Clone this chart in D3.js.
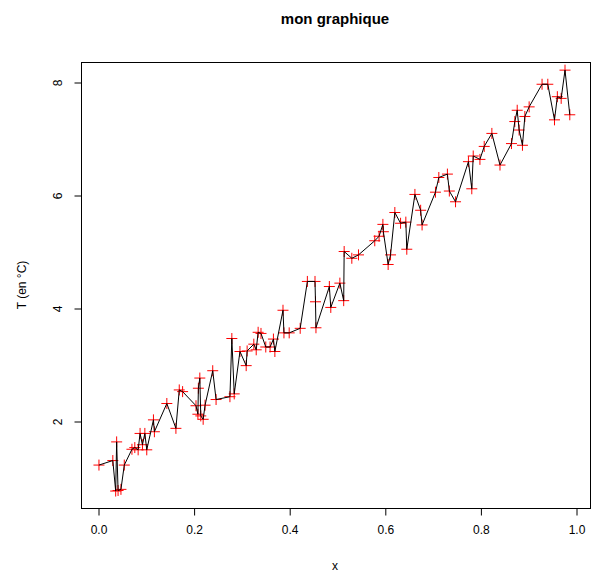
<!DOCTYPE html>
<html><head><meta charset="utf-8">
<script src="https://cdn.jsdelivr.net/npm/d3@7"></script>
<style>body{margin:0;background:#fff}svg{display:block}text{font-family:"Liberation Sans",Arial,sans-serif}</style>
</head><body>
<script>
const xs = [0.002,0.031,0.037,0.039,0.042,0.048,0.055,0.071,0.077,0.084,0.088,0.093,0.098,0.102,0.116,0.118,0.144,0.163,0.170,0.177,
0.205,0.209,0.210,0.213,0.215,0.220,0.224,0.240,0.247,0.276,0.280,0.285,0.297,0.310,0.312,0.326,0.331,0.335,0.341,0.351,
0.360,0.367,0.370,0.387,0.389,0.400,0.423,0.438,0.454,0.455,0.456,0.484,0.487,0.506,0.514,0.515,0.531,0.545,0.579,0.588,
0.596,0.597,0.607,0.612,0.621,0.633,0.644,0.646,0.663,0.675,0.678,0.706,0.713,0.731,0.735,0.748,0.775,0.782,0.785,0.799,
0.808,0.824,0.841,0.865,0.872,0.877,0.881,0.888,0.893,0.902,0.929,0.941,0.955,0.961,0.969,0.977,0.987];
const temps = [1.22,1.30,0.76,1.63,0.77,0.79,1.22,1.50,1.53,1.49,1.78,1.58,1.78,1.49,2.02,1.81,2.31,1.87,2.55,2.52,
2.27,2.12,2.58,2.76,2.09,2.03,2.28,2.89,2.38,2.43,3.46,2.48,3.23,2.98,3.24,3.36,3.26,3.57,3.55,3.31,
3.31,3.45,3.23,3.96,3.56,3.56,3.64,4.47,4.47,4.11,3.65,4.38,4.01,4.44,4.13,5.00,4.88,4.94,5.19,5.27,
5.48,5.35,4.77,4.94,5.69,5.50,5.52,5.04,6.01,5.73,5.47,6.05,6.31,6.37,6.07,5.88,6.59,6.11,6.69,6.63,
6.86,7.09,6.53,6.91,7.30,7.50,7.15,6.88,7.39,7.56,7.96,7.96,7.33,7.74,7.71,8.21,7.42];
const xTicks = [0, 0.2, 0.4, 0.6, 0.8, 1.0];
const yTicks = [2, 4, 6, 8];
const title = "mon graphique", xLabel = "x", yLabel = "T (en °C)";

const W = 593, H = 575;
const box = {l: 81, r: 590, t: 62, b: 508};
const svg = d3.select("body").append("svg").attr("width", W).attr("height", H);
const x = d3.scaleLinear().domain([0, 1]).range([98, 576]);
const y = d3.scaleLinear().domain([2, 8]).range([421, 82]);
const data = xs.map((v, i) => ({x: v, t: temps[i]}));

// points (red +)
const s = 5.5;
const g = svg.append("g").attr("stroke", "#ff0000").attr("stroke-width", 1);
data.forEach(d => {
  const px = x(d.x), py = y(d.t);
  g.append("line").attr("x1", px - s).attr("x2", px + s).attr("y1", py).attr("y2", py);
  g.append("line").attr("x1", px).attr("x2", px).attr("y1", py - s).attr("y2", py + s);
});
// line
svg.append("path").datum(data)
  .attr("d", d3.line().x(d => x(d.x)).y(d => y(d.t)))
  .attr("fill", "none").attr("stroke", "#000").attr("stroke-width", 1);

// box
svg.append("rect").attr("x", box.l + 0.5).attr("y", box.t + 0.5)
  .attr("width", box.r - box.l).attr("height", box.b - box.t)
  .attr("fill", "none").attr("stroke", "#000").attr("stroke-width", 1);

// x axis
const xa = svg.append("g").attr("transform", `translate(0.5,${box.b + 0.5})`)
  .call(d3.axisBottom(x).tickValues(xTicks).tickFormat(d3.format(".1f")).tickSize(7).tickPadding(10));
xa.select(".domain").attr("d", `M${x(0)},0H${x(1)}`);
xa.selectAll("text").attr("font-size", 12).attr("font-family", "Liberation Sans, Arial, sans-serif").attr("fill", "#000");

// y axis
const ya = svg.append("g").attr("transform", `translate(${box.l + 0.5},0.5)`)
  .call(d3.axisLeft(y).tickValues(yTicks).tickFormat(d3.format("d")).tickSize(7).tickPadding(0));
ya.select(".domain").attr("d", `M0,${y(2)}V${y(8)}`);
ya.selectAll(".tick text").attr("font-size", 12).attr("font-family", "Liberation Sans, Arial, sans-serif").attr("fill", "#000")
  .attr("text-anchor", "middle").attr("x", 0).attr("dy", 0)
  .attr("transform", "translate(-20,0) rotate(-90)");

svg.append("text").attr("x", 335).attr("y", 24).attr("text-anchor", "middle")
  .attr("font-size", 15).attr("font-weight", "bold").text(title);
svg.append("text").attr("x", 335).attr("y", 570).attr("text-anchor", "middle")
  .attr("font-size", 12).text(xLabel);
svg.append("text").attr("transform", "translate(26,285) rotate(-90)").attr("text-anchor", "middle")
  .attr("font-size", 12).text(yLabel);
</script>
</body></html>
